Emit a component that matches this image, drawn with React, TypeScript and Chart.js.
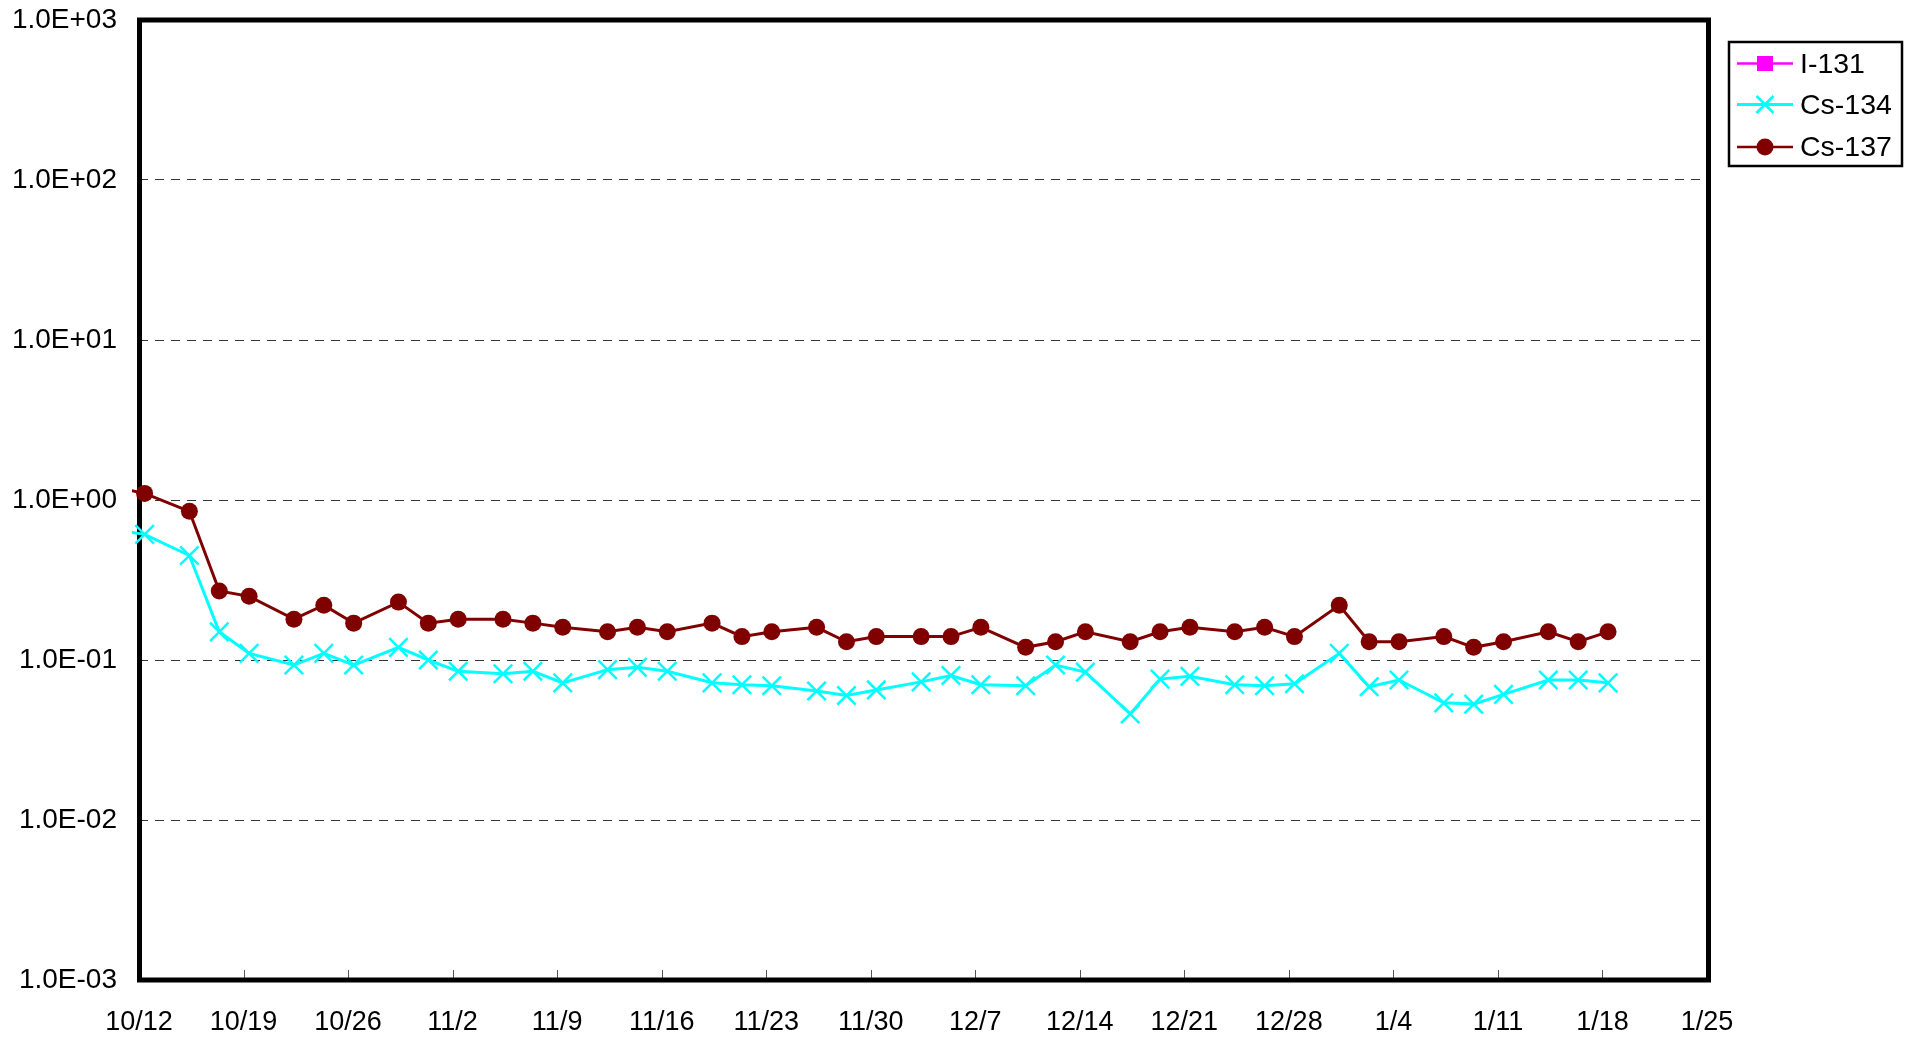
import React, { useEffect, useRef } from "react";
import { Chart, registerables } from "chart.js";

Chart.register(...registerables);

// ---- data ----
const axisStart = "2015-10-12T00:00:00Z";
const axisDays = 105;

const sampleDates = [
  "2015-10-10T09:00:00Z", "2015-10-12T09:00:00Z", "2015-10-15T09:00:00Z", "2015-10-17T09:00:00Z",
  "2015-10-19T09:00:00Z", "2015-10-22T09:00:00Z", "2015-10-24T09:00:00Z", "2015-10-26T09:00:00Z",
  "2015-10-29T09:00:00Z", "2015-10-31T09:00:00Z", "2015-11-02T09:00:00Z", "2015-11-05T09:00:00Z",
  "2015-11-07T09:00:00Z", "2015-11-09T09:00:00Z", "2015-11-12T09:00:00Z", "2015-11-14T09:00:00Z",
  "2015-11-16T09:00:00Z", "2015-11-19T09:00:00Z", "2015-11-21T09:00:00Z", "2015-11-23T09:00:00Z",
  "2015-11-26T09:00:00Z", "2015-11-28T09:00:00Z", "2015-11-30T09:00:00Z", "2015-12-03T09:00:00Z",
  "2015-12-05T09:00:00Z", "2015-12-07T09:00:00Z", "2015-12-10T09:00:00Z", "2015-12-12T09:00:00Z",
  "2015-12-14T09:00:00Z", "2015-12-17T09:00:00Z", "2015-12-19T09:00:00Z", "2015-12-21T09:00:00Z",
  "2015-12-24T09:00:00Z", "2015-12-26T09:00:00Z", "2015-12-28T09:00:00Z", "2015-12-31T09:00:00Z",
  "2016-01-02T09:00:00Z", "2016-01-04T09:00:00Z", "2016-01-07T09:00:00Z", "2016-01-09T09:00:00Z",
  "2016-01-11T09:00:00Z", "2016-01-14T09:00:00Z", "2016-01-16T09:00:00Z", "2016-01-18T09:00:00Z",
];

const i131Values: (number | null)[] = [];

const cs134Values = [
  0.65, 0.61, 0.45, 0.15, 0.11, 0.093, 0.11, 0.093, 0.12, 0.10, 0.085, 0.082,
  0.085, 0.072, 0.087, 0.090, 0.085, 0.072, 0.070, 0.069, 0.064, 0.060, 0.065, 0.073,
  0.080, 0.070, 0.069, 0.093, 0.084, 0.046, 0.076, 0.079, 0.070, 0.069, 0.071, 0.11,
  0.068, 0.075, 0.054, 0.053, 0.061, 0.075, 0.075, 0.072,
];

const cs137Values = [
  1.2, 1.1, 0.85, 0.27, 0.25, 0.18, 0.22, 0.17, 0.23, 0.17, 0.18, 0.18,
  0.17, 0.16, 0.15, 0.16, 0.15, 0.17, 0.14, 0.15, 0.16, 0.13, 0.14, 0.14,
  0.14, 0.16, 0.12, 0.13, 0.15, 0.13, 0.15, 0.16, 0.15, 0.16, 0.14, 0.22,
  0.13, 0.13, 0.14, 0.12, 0.13, 0.15, 0.13, 0.15,
];

const xTickLabels = [
  "10/12", "10/19", "10/26", "11/2", "11/9", "11/16", "11/23", "11/30",
  "12/7", "12/14", "12/21", "12/28", "1/4", "1/11", "1/18", "1/25",
];
const xTickStepDays = 7;

const yTickValues = [1e-3, 1e-2, 1e-1, 1e0, 1e1, 1e2, 1e3];
const yTickLabels = ["1.0E-03", "1.0E-02", "1.0E-01", "1.0E+00", "1.0E+01", "1.0E+02", "1.0E+03"];

const seriesNames = ["I-131", "Cs-134", "Cs-137"];
const seriesColors = ["#FF00FF", "#00FFFF", "#800000"];

// ---- helpers ----
const FONT = "'Liberation Sans', Arial, sans-serif";
const dayOf = (iso: string) => (Date.parse(iso) - Date.parse(axisStart)) / 86400000;
const toPoints = (vals: (number | null)[]) =>
  vals.map((v, i) => ({ x: dayOf(sampleDates[i]), y: v }));

const framePlugin = {
  id: "frame",
  beforeDatasetsDraw(chart: any) {
    const { ctx, chartArea: a, scales } = chart;
    ctx.save();
    ctx.strokeStyle = "#555";
    ctx.lineWidth = 1;
    scales.x.ticks.forEach((t: any) => {
      const x = Math.round(scales.x.getPixelForValue(t.value)) + 0.5;
      ctx.beginPath();
      ctx.moveTo(x, a.bottom);
      ctx.lineTo(x, a.bottom - 10);
      ctx.stroke();
    });
    ctx.strokeStyle = "#000";
    ctx.lineWidth = 5;
    ctx.strokeRect(a.left + 0.5, a.top, a.right - a.left + 1, a.bottom - a.top);
    ctx.restore();
  },
  afterDraw(chart: any) {
    const { ctx } = chart;
    ctx.save();
    ctx.fillStyle = "#fff";
    ctx.fillRect(1729, 42, 173, 124);
    ctx.strokeStyle = "#000";
    ctx.lineWidth = 2.5;
    ctx.strokeRect(1729, 42, 173, 124);
    const rows = [63.5, 104.5, 147];
    const lineX0 = 1737;
    const lineX1 = 1793;
    const mx = 1765;
    rows.forEach((y, i) => {
      const c = seriesColors[i];
      ctx.strokeStyle = c;
      ctx.lineWidth = i === 1 ? 3 : 2.5;
      ctx.beginPath();
      ctx.moveTo(lineX0, y);
      ctx.lineTo(lineX1, y);
      ctx.stroke();
      ctx.fillStyle = c;
      if (i === 0) {
        ctx.fillRect(mx - 8, y - 7.5, 16, 15);
      } else if (i === 1) {
        ctx.lineWidth = 2.5;
        const r = 8.5;
        ctx.beginPath();
        ctx.moveTo(mx - r, y - r);
        ctx.lineTo(mx + r, y + r);
        ctx.moveTo(mx - r, y + r);
        ctx.lineTo(mx + r, y - r);
        ctx.stroke();
      } else {
        ctx.beginPath();
        ctx.arc(mx, y, 8.5, 0, Math.PI * 2);
        ctx.fill();
      }
      ctx.fillStyle = "#000";
      ctx.font = `28.5px ${FONT}`;
      ctx.textBaseline = "middle";
      ctx.textAlign = "left";
      ctx.fillText(seriesNames[i], 1800, y + 1.5);
    });
    ctx.restore();
  },
};

export default function App() {
  const ref = useRef<HTMLCanvasElement | null>(null);

  useEffect(() => {
    if (!ref.current) return;
    const clip = { left: 7, top: 5, right: 5, bottom: 5 };
    const chart = new Chart(ref.current, {
      type: "line",
      data: {
        datasets: [
          {
            label: seriesNames[0],
            data: toPoints(i131Values) as any,
            borderColor: seriesColors[0],
            backgroundColor: seriesColors[0],
            pointStyle: "rect",
            pointRadius: 8,
            borderWidth: 2.5,
            clip,
          },
          {
            label: seriesNames[1],
            data: toPoints(cs134Values) as any,
            borderColor: seriesColors[1],
            backgroundColor: seriesColors[1],
            pointStyle: "crossRot",
            pointRadius: 13,
            pointBorderWidth: 2.5,
            pointBorderColor: seriesColors[1],
            borderWidth: 3,
            tension: 0,
            clip,
          },
          {
            label: seriesNames[2],
            data: toPoints(cs137Values) as any,
            borderColor: seriesColors[2],
            backgroundColor: seriesColors[2],
            pointStyle: "circle",
            pointRadius: 8.5,
            pointBorderWidth: 0,
            pointBackgroundColor: seriesColors[2],
            borderWidth: 3,
            tension: 0,
            clip,
          },
        ],
      },
      options: {
        animation: false,
        responsive: false,
        devicePixelRatio: 1,
        events: [],
        layout: { padding: { left: 0, right: 208, top: 20, bottom: 0 } },
        plugins: { legend: { display: false }, tooltip: { enabled: false } },
        scales: {
          x: {
            type: "linear",
            min: 0,
            max: axisDays,
            afterFit: (s: any) => {
              s.height = 61;
              s.paddingLeft = 0;
              s.paddingRight = 0;
            },
            afterBuildTicks: (s: any) => {
              s.ticks = xTickLabels.map((_, i) => ({ value: i * xTickStepDays }));
            },
            grid: { display: false, drawTicks: false },
            border: { display: false },
            ticks: {
              callback: (_v: any, i: number) => xTickLabels[i],
              font: { family: FONT, size: 27 },
              color: "#000",
              padding: 26,
              maxRotation: 0,
              autoSkip: false,
            },
          },
          y: {
            type: "logarithmic",
            min: 1e-3,
            max: 1e3,
            afterFit: (s: any) => {
              s.width = 139;
              s.paddingTop = 0;
              s.paddingBottom = 0;
            },
            afterBuildTicks: (s: any) => {
              s.ticks = yTickValues.map((v) => ({ value: v }));
            },
            grid: { color: "#333", lineWidth: 1, drawTicks: false },
            border: { display: false, dash: [9, 7] },
            ticks: {
              callback: (_v: any, i: number) => yTickLabels[i],
              font: { family: FONT, size: 28 },
              color: "#000",
              padding: 22,
              autoSkip: false,
            },
          },
        },
      },
      plugins: [framePlugin],
    });
    return () => chart.destroy();
  }, []);

  return (
    <canvas
      ref={ref}
      width={1915}
      height={1041}
      style={{ position: "fixed", left: 0, top: 0, width: "1915px", height: "1041px" }}
    />
  );
}
